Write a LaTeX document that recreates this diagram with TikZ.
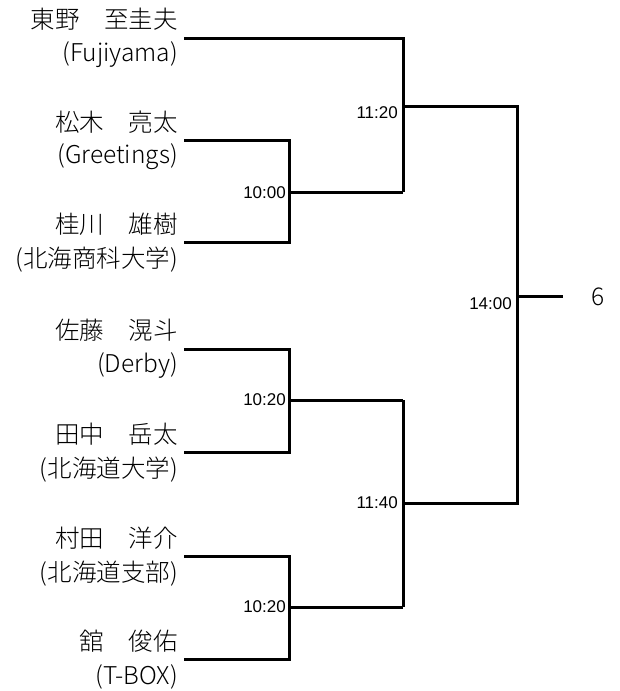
\documentclass[tikz,border=0pt]{standalone}
\usepackage{fontspec}
\setmainfont{Noto Sans CJK JP Light}
\newfontfamily\timefont{Liberation Sans}
\begin{document}
\begin{tikzpicture}[x=1pt,y=-1pt,
  ln/.style={line width=3pt},
  nm/.style={anchor=east,inner sep=0pt,font=\fontsize{24.5}{26}\selectfont},
  tm/.style={anchor=east,inner sep=0pt,font=\timefont\fontsize{17}{19}\selectfont}]
\useasboundingbox (0,0) rectangle (619,691);
% player line ends
\coordinate (p1) at (184,38);
\coordinate (p2) at (184,140);
\coordinate (p3) at (184,242);
\coordinate (p4) at (184,349);
\coordinate (p5) at (184,452);
\coordinate (p6) at (184,556);
\coordinate (p7) at (184,659);
% junctions
\coordinate (m1) at (289,192);
\coordinate (m2) at (289,400);
\coordinate (m3) at (289,607);
\coordinate (s1) at (403,106);
\coordinate (s2) at (403,503);
\coordinate (f)  at (517,296);
\coordinate (w)  at (563,296);
% names
\node[nm] (n1) at (178,19) {東野　至圭夫};
\node[nm] (a1) at (178,55) {(Fujiyama)};
\node[nm] (n2) at (178,122) {松木　亮太};
\node[nm] (a2) at (178,157) {(Greetings)};
\node[nm] (n3) at (178,224) {桂川　雄樹};
\node[nm] (a3) at (178,260) {(北海商科大学)};
\node[nm] (n4) at (178,330) {佐藤　滉斗};
\node[nm] (a4) at (178,366) {(Derby)};
\node[nm] (n5) at (178,434) {田中　岳太};
\node[nm] (a5) at (178,470) {(北海道大学)};
\node[nm] (n6) at (178,538) {村田　洋介};
\node[nm] (a6) at (178,574) {(北海道支部)};
\node[nm] (n7) at (178,641) {舘　俊佑};
\node[nm] (a7) at (178,677) {(T-BOX)};
% lines
\draw[ln] (p2) -| (m1 |- p2) -- (m1 |- p3) -- (p3);
\draw[ln] (m1) -- (s1 |- m1);
\draw[ln] (p4) -| (m2 |- p4) -- (m2 |- p5) -- (p5);
\draw[ln] (m2) -- (s2 |- m2);
\draw[ln] (p6) -| (m3 |- p6) -- (m3 |- p7) -- (p7);
\draw[ln] (m3) -- (s2 |- m3);
\draw[ln] (p1) -- (s1 |- p1) -- (s1 |- m1);
\draw[ln] (s2 |- m2) -- (s2 |- m3);
\draw[ln] (s1) -- (f |- s1) -- (f |- s2) -- (s2);
\draw[ln] (f) -- (w);
% times
\node[tm] (t1) at (286,193) {10:00};
\node[tm] (t2) at (286,400) {10:20};
\node[tm] (t3) at (286,607) {10:20};
\node[tm] (t4) at (398,113) {11:20};
\node[tm] (t5) at (398,503) {11:40};
\node[tm] (t6) at (512,304) {14:00};
\node[inner sep=0pt,font=\fontsize{24.5}{26}\selectfont] (r) at (598,297) {6};
\end{tikzpicture}
\end{document}
